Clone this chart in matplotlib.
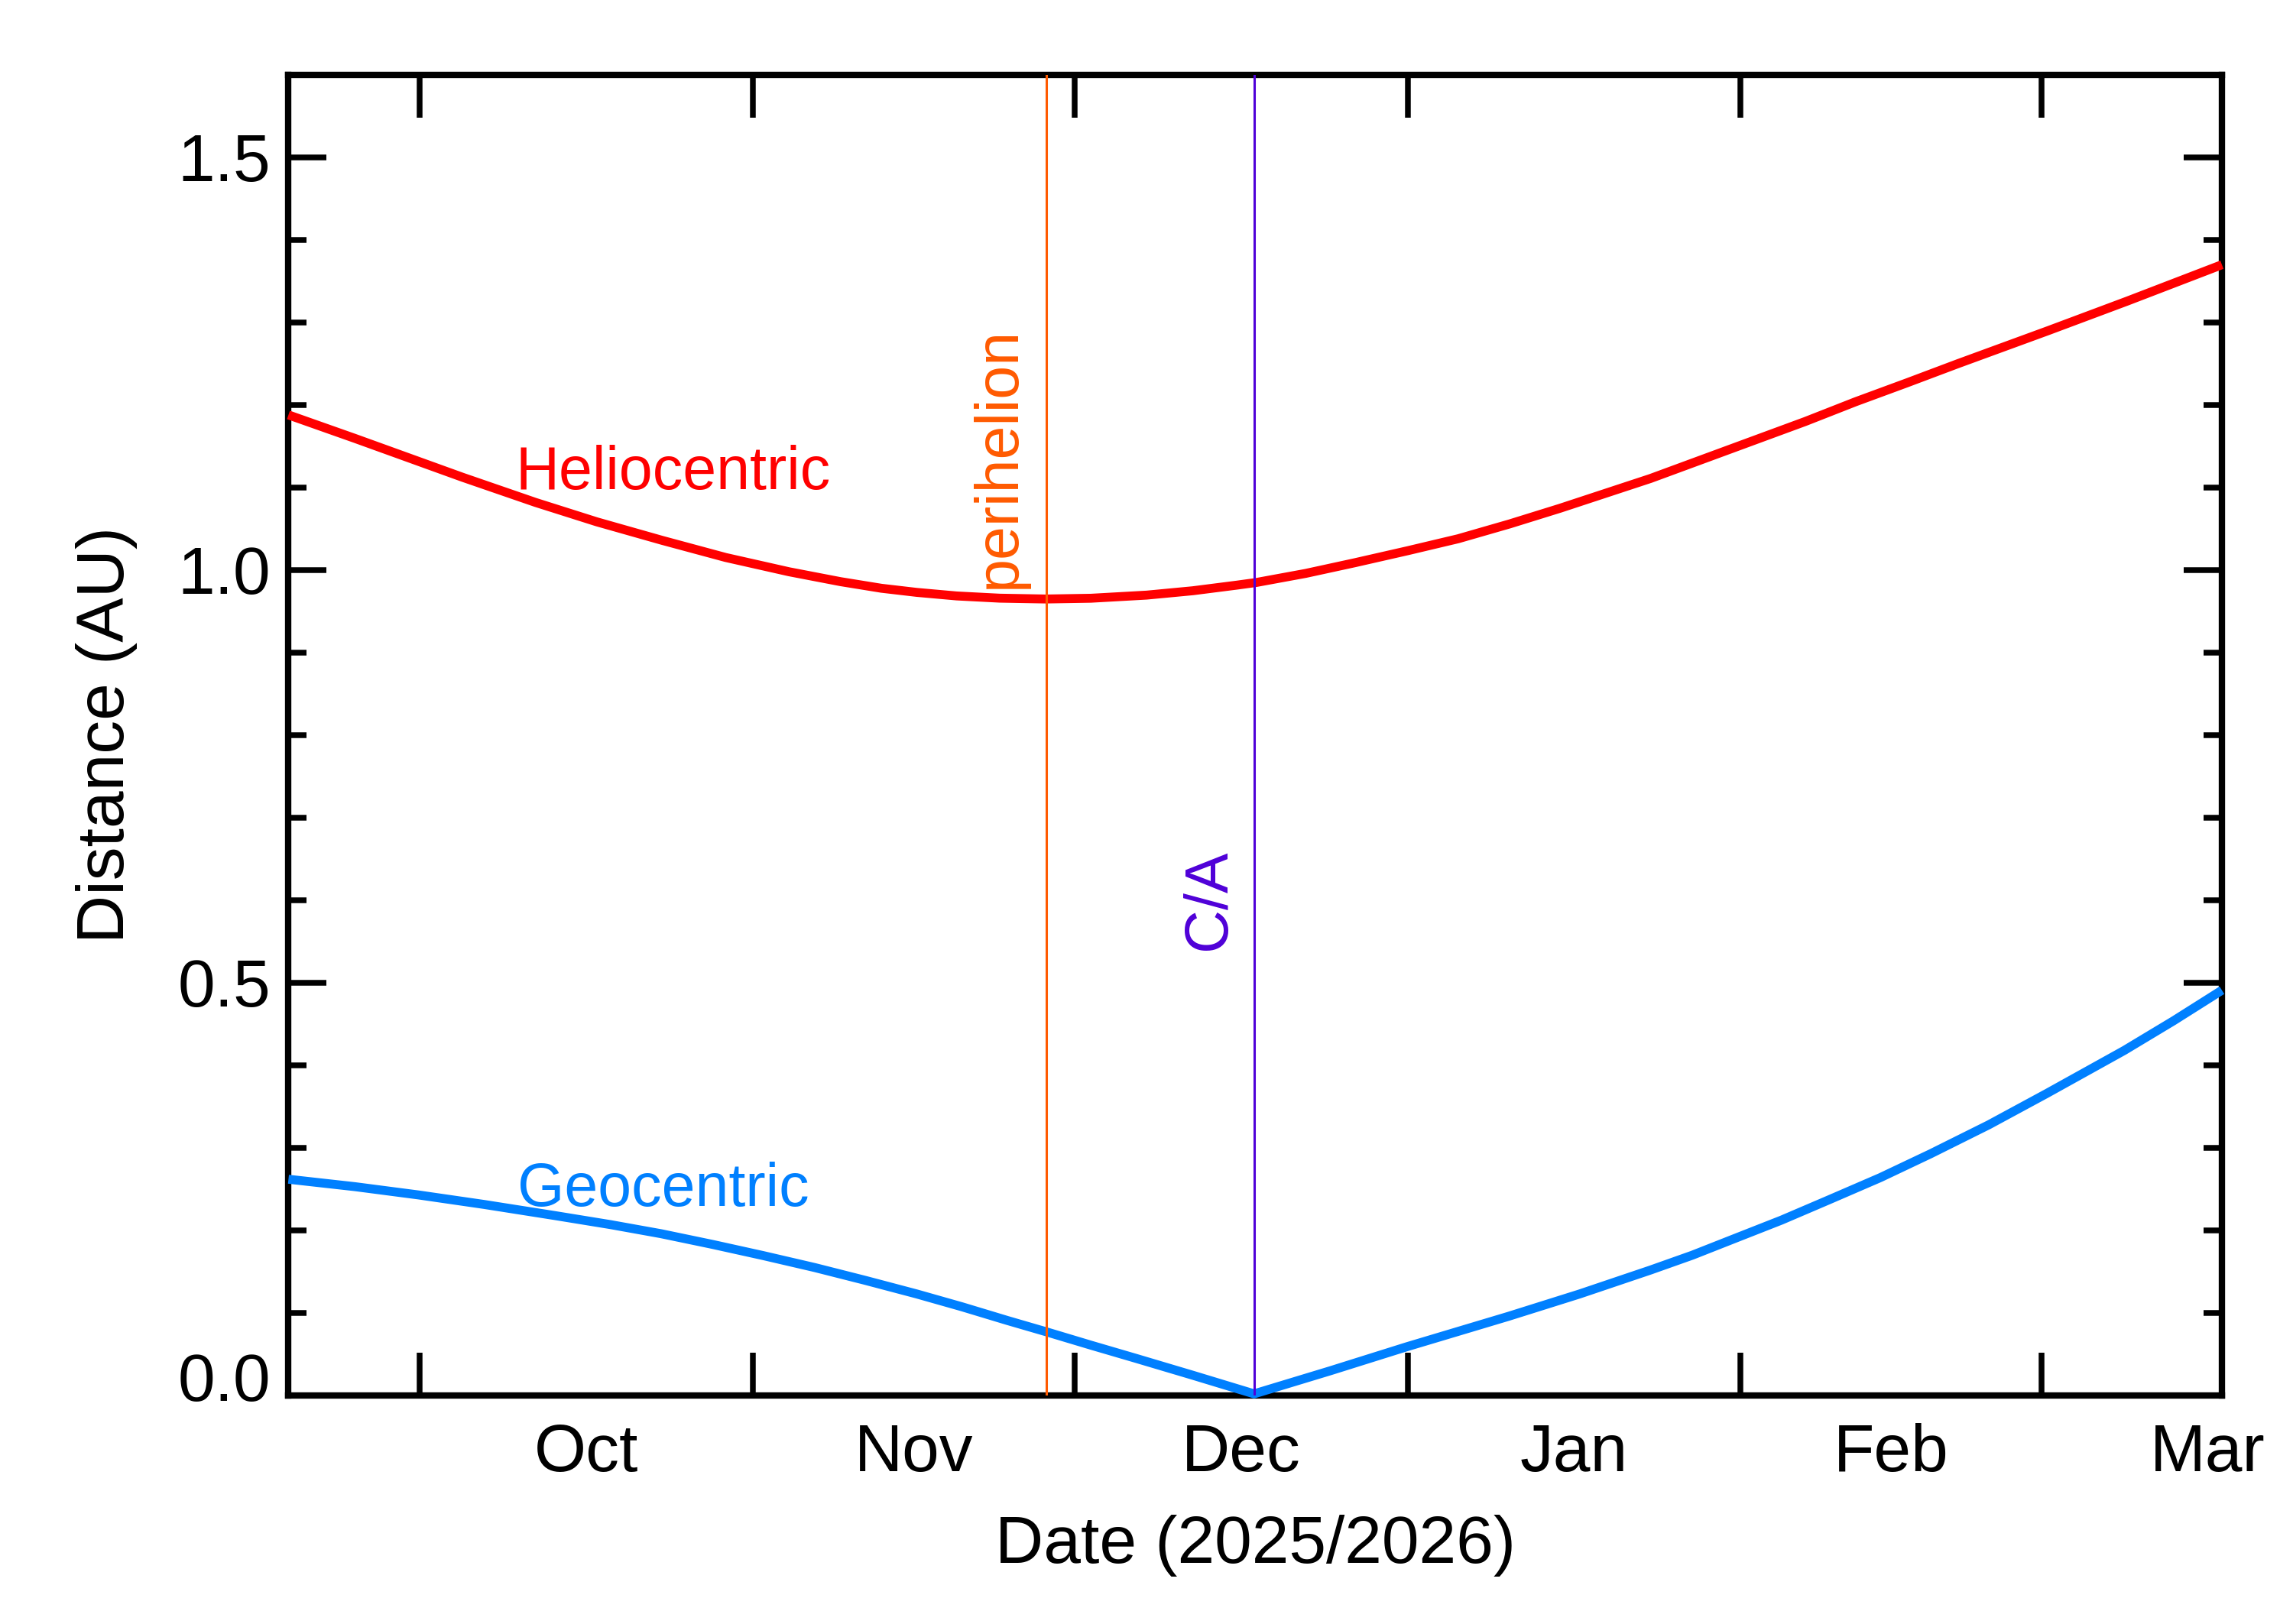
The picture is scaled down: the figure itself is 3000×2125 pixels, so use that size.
import numpy as np
import matplotlib
matplotlib.use("Agg")
import matplotlib.pyplot as plt
from matplotlib.ticker import FixedLocator, MultipleLocator, NullFormatter, FixedFormatter
import matplotlib.transforms as mtransforms

plt.rcParams['font.family'] = ['Liberation Sans', 'DejaVu Sans']

# days counted from 2025 Oct 1 (0 = Oct 1)
helio_day = [-12.2, -6.0, -1.0, 4.0, 10.8, 16.5, 22.6, 28.5, 34.4, 39.2, 43.0, 46.3,
             50.0, 54.0, 58.3, 62.5, 67.7, 72.0, 76.1, 77.9, 82.5, 87.1, 92.0, 96.7,
             101.5, 106.2, 110.4, 114.6, 119.4, 124.2, 129.0, 133.7, 138.5, 143.2,
             147.4, 151.6, 155.3, 159.0, 163.4, 167.8]
helio_au = [1.188, 1.1595, 1.136, 1.1125, 1.082, 1.0585, 1.036, 1.0153, 0.998, 0.986, 0.978, 0.973,
            0.9687, 0.966, 0.965, 0.9659, 0.9697, 0.975, 0.9818, 0.985, 0.996, 1.009, 1.0235, 1.038,
            1.056, 1.075, 1.093, 1.111, 1.134, 1.157, 1.180, 1.204, 1.227, 1.250,
            1.270, 1.290, 1.308, 1.326, 1.348, 1.370]

geo_day = [-12.2, -6.0, -0.1, 6.0, 12.6, 17.8, 22.5, 27.3, 32.0, 36.8, 41.5, 46.3, 50.5,
           54.7, 58.4, 62.5, 66.7, 72.0, 77.7,
           84.8, 91.9, 96.6, 101.4, 108.0, 114.6, 118.5, 122.4, 126.8, 131.2, 136.0,
           140.7, 146.1, 151.5, 155.1, 158.7, 163.3, 167.8]
geo_au = [0.262, 0.253, 0.243, 0.2315, 0.218, 0.207, 0.196, 0.183, 0.1695, 0.155, 0.1395, 0.123, 0.1075,
          0.091, 0.077, 0.061, 0.045, 0.0245, 0.002,
          0.030, 0.059, 0.0773, 0.096, 0.123, 0.152, 0.170, 0.190, 0.2125, 0.237, 0.264,
          0.293, 0.328, 0.366, 0.392, 0.418, 0.454, 0.491]

month_names = ["Oct", "Nov", "Dec", "Jan", "Feb", "Mar"]
month_len = [31, 30, 31, 31, 28, 31]
perihelion_day = 58.35
closest_day = 77.7
x_start, x_end = -12.2, 167.8

month_start = np.concatenate([[0], np.cumsum(month_len)[:-1]])
month_mid = month_start + np.array(month_len) / 2.0

fig = plt.figure(figsize=(15, 10.625), dpi=200)
ax = fig.add_axes([0.1258, 0.1407, 0.969 - 0.1258, 0.9539 - 0.1407])

ax.plot(helio_day, helio_au, color="#FF0000", lw=4.2, solid_capstyle="butt",
        solid_joinstyle="round", clip_on=False, zorder=3)
ax.plot(geo_day, geo_au, color="#0080FF", lw=4.2, solid_capstyle="butt",
        solid_joinstyle="round", clip_on=False, zorder=3)

ax.axvline(perihelion_day, color="#FF5A00", lw=1.1, zorder=4)
ax.axvline(closest_day, color="#4F00D8", lw=1.1, zorder=4)

ax.text(8.95, 1.0985, "Heliocentric", color="#FF0000", fontsize=28.4, ha="left", va="baseline")
ax.text(9.1, 0.2298, "Geocentric", color="#0080FF", fontsize=28.4, ha="left", va="baseline")
ax.text(55.46, 0.9775, "perihelion", color="#FF5A00", fontsize=28.4, rotation=90,
        rotation_mode="anchor", ha="left", va="baseline")
ax.text(74.99, 0.540, "C/A", color="#4F00D8", fontsize=28.4, rotation=90,
        rotation_mode="anchor", ha="left", va="baseline")

ax.set_xlim(x_start, x_end)
ax.set_ylim(0, 1.6)

ax.xaxis.set_major_locator(FixedLocator(month_start))
ax.xaxis.set_major_formatter(NullFormatter())
ax.xaxis.set_minor_locator(FixedLocator(month_mid))
ax.xaxis.set_minor_formatter(FixedFormatter(month_names))
ax.yaxis.set_major_locator(MultipleLocator(0.5))
ax.yaxis.set_minor_locator(MultipleLocator(0.1))
# the 0.0 label is drawn separately, a bit higher
ax.yaxis.set_major_formatter(plt.FuncFormatter(lambda v, p: "" if abs(v) < 1e-9 else "%.1f" % v))

ax.tick_params(axis="x", which="major", direction="in", length=20, width=2.7,
               top=True, bottom=True)
ax.tick_params(axis="x", which="minor", length=0, pad=13, labelsize=31.5)
ax.tick_params(axis="y", which="major", direction="in", length=18, width=2.7,
               left=True, right=True, pad=8.3, labelsize=31.5)
ax.tick_params(axis="y", which="minor", direction="in", length=8.8, width=2.7,
               left=True, right=True)

for s in ax.spines.values():
    s.set_linewidth(3.0)

zero_trans = mtransforms.blended_transform_factory(ax.transAxes, ax.transData) + \
    mtransforms.ScaledTranslation(-8.3 / 72, 9 / 72, fig.dpi_scale_trans)
ax.text(0, 0, "0.0", transform=zero_trans, fontsize=31.5, ha="right", va="center_baseline")

ax.set_xlabel("Date (2025/2026)", fontsize=31.5, labelpad=14)
ax.set_ylabel("Distance (AU)", fontsize=31.5, labelpad=19)

fig.savefig("out.png", dpi=200, facecolor="white")
